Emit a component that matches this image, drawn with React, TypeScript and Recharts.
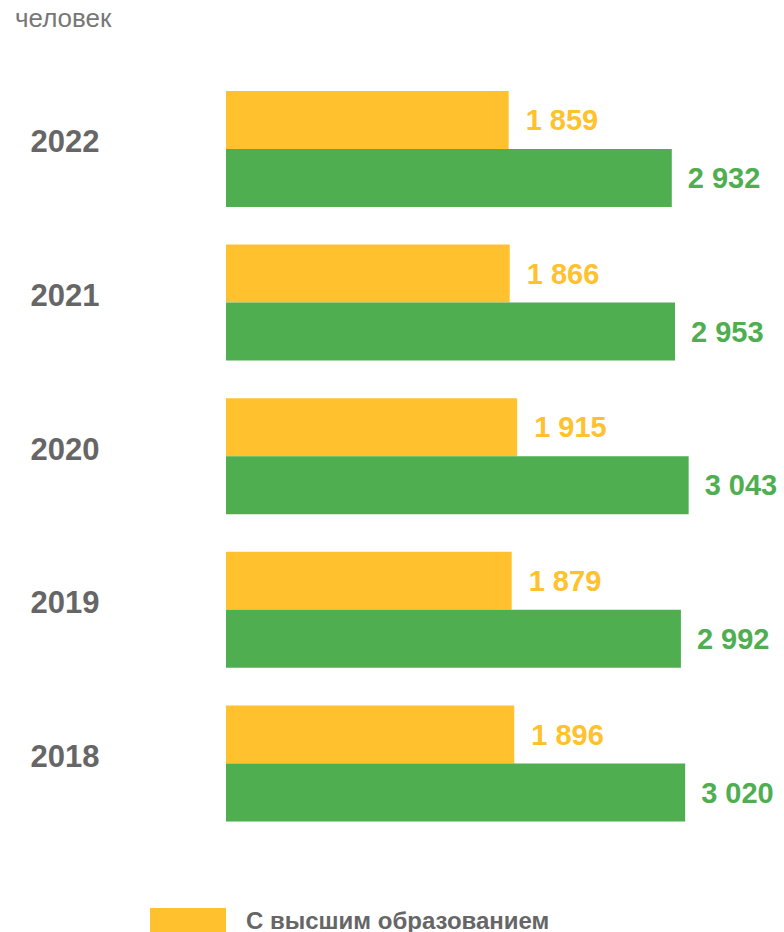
import React from 'react';
import { BarChart, Bar, XAxis, YAxis, LabelList, Legend } from 'recharts';

const years = ['2022', '2021', '2020', '2019', '2018'];
const higherEdu = [1859, 1866, 1915, 1879, 1896];
const total = [2932, 2953, 3043, 2992, 3020];
const unitLabel = 'человек';
const legendLabel = 'С высшим образованием';

const YELLOW = '#FFC12E';
const GREEN = '#4FAE50';
const GRAY = '#666666';
const FONT = '"Liberation Sans", Arial, sans-serif';

const data = years.map((y, i) => ({ year: y, higher: higherEdu[i], total: total[i] }));

const fmt = (v: any) => String(v).replace(/\B(?=(\d{3})+(?!\d))/g, ' ');

const YearTick = (props: any) => {
  const { y, payload } = props;
  return (
    <text x={65} y={y - 7} textAnchor="middle" dominantBaseline="central"
      fontFamily={FONT} fontWeight="bold" fontSize={31} fill={GRAY}>
      {payload.value}
    </text>
  );
};

const LegendContent = () => (
  <div style={{ position: 'relative', height: 40 }}>
    <div style={{ position: 'absolute', left: 150, top: 2, width: 76, height: 30, background: YELLOW }} />
    <div style={{ position: 'absolute', left: 246, top: 0, fontFamily: FONT, fontWeight: 'bold', fontSize: 24, color: GRAY, lineHeight: '30px', whiteSpace: 'nowrap' }}>
      {legendLabel}
    </div>
  </div>
);

export default function App() {
  return (
    <div style={{ position: 'absolute', left: 0, top: 0, width: 784, height: 932, overflow: 'hidden', background: '#fff' }}>
      <BarChart width={784} height={932} data={data} layout="vertical"
        margin={{ top: 72, right: 0, bottom: 92, left: 0 }}
        barCategoryGap={19} barGap={0}>
        <text x={15} y={27} fontFamily={FONT} fontSize={26} fill="#777777">{unitLabel}</text>
        <XAxis type="number" domain={[0, 3670]} hide />
        <YAxis type="category" dataKey="year" width={226} axisLine={false} tickLine={false} tick={<YearTick />} />
        <Legend layout="horizontal" verticalAlign="middle" align="center"
          wrapperStyle={{ top: 906, left: 0, width: 784 }} content={<LegendContent />} />
        <Bar dataKey="higher" fill={YELLOW} isAnimationActive={false}>
          <LabelList dataKey="higher" position="right" offset={17} formatter={fmt}
            style={{ fontFamily: FONT, fontWeight: 'bold', fontSize: 29, fill: YELLOW }} />
        </Bar>
        <Bar dataKey="total" fill={GREEN} isAnimationActive={false}>
          <LabelList dataKey="total" position="right" offset={16} formatter={fmt}
            style={{ fontFamily: FONT, fontWeight: 'bold', fontSize: 29, fill: GREEN }} />
        </Bar>
      </BarChart>
    </div>
  );
}
